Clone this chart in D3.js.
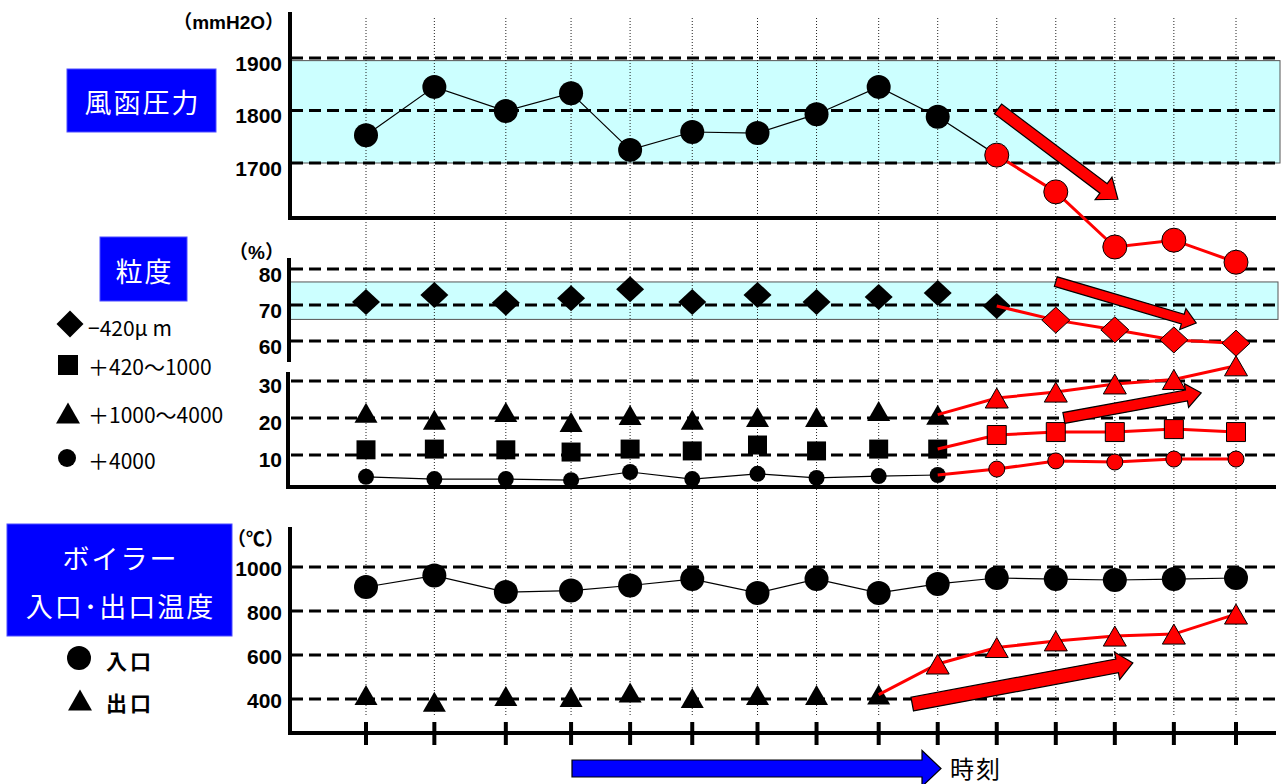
<!DOCTYPE html>
<html><head><meta charset="utf-8">
<script src="https://cdn.jsdelivr.net/npm/d3@7"></script>
<style>body{margin:0;background:#fff}svg{display:block}</style>
</head><body><svg id="c" width="1288" height="784"></svg>
<script>
// ---------- data ----------
const times = [0, 1.1, 2.25, 3.3, 4.25, 5.25, 6.3, 7.25, 8.25, 9.2, 10.15, 11.1, 12.05, 13, 14];
const windboxPressure = [1753, 1845, 1799, 1833, 1725, 1759, 1757, 1793, 1845, 1788, 1715, 1645, 1540, 1553, 1511];
const sizeUnder420   = [70.8, 72.8, 70.6, 71.9, 74.4, 70.8, 72.8, 70.8, 72.2, 73.3, 69.7, 65.8, 63.1, 60.3, 59.4];
const size420to1000  = [11.4, 11.6, 11.4, 10.8, 11.6, 11.1, 12.7, 11.1, 11.6, 11.6, 15.4, 16.2, 16.2, 17.0, 16.2];
const size1000to4000 = [21.4, 19.5, 21.6, 18.9, 20.8, 19.5, 20.3, 20.3, 21.9, 20.9, 25.4, 27.0, 29.2, 30.4, 34.1];
const sizeOver4000   = [4.1, 3.5, 3.5, 3.2, 5.4, 3.5, 4.9, 3.8, 4.3, 4.6, 6.2, 8.4, 8.1, 8.9, 8.9];
const boilerInlet    = [909, 961, 886, 893, 916, 945, 882, 945, 882, 923, 950, 945, 941, 945, 950];
const boilerOutlet   = [418, 388, 414, 409, 429, 405, 418, 418, 420, 559, 634, 664, 686, 695, 786];

const pressureTicks  = [1700, 1800, 1900];
const sizeUpperTicks = [60, 70, 80];
const sizeLowerTicks = [10, 20, 30];
const tempTicks      = [400, 600, 800, 1000];

const pressureBand = [1700, 1895];
const sizeBand     = [66, 76.4];

const unitLabels   = ['（mmH2O）', '（%）', '（℃）'];
const panelTitles  = [['風函圧力'], ['粒度'], ['ボイラー', '入口･出口温度']];
const sizeLegend   = ['−420μ m', '＋420～1000', '＋1000～4000', '＋4000'];
const tempLegend   = ['入口', '出口'];
const timeLabel    = '時刻';

// trend arrows, in data units [time, value]
const trendPressure = [[10.17, 1803], [12.1, 1631]];
const trendUpper    = [[11.1, 76.5], [13.36, 65]];
const trendLower    = [[11.23, 20], [13.44, 26.8]];
const trendTemp     = [[8.79, 377], [12.34, 564]];

// ---------- scales ----------
const svg = d3.select('#c');
svg.append('rect').attr('width', 1288).attr('height', 784).attr('fill', '#fff');

const x  = d3.scaleLinear().domain([0, 14]).range([366, 1236]);
const yP = d3.scaleLinear().domain([1700, 1900]).range([163, 58]);
const yU = d3.scaleLinear().domain([60, 80]).range([341, 269]);
const yL = d3.scaleLinear().domain([10, 30]).range([455, 381]);
const yT = d3.scaleLinear().domain([400, 1000]).range([699, 567]);

const NUM_FONT = '"Liberation Sans", Arial, "Noto Sans CJK JP", sans-serif';
const JP_FONT = '"Noto Sans CJK JP", "Noto Sans", sans-serif';
const RED = '#ff0000';
const GRID_L = 291, GRID_R = 1280, AXIS_R = 1276;

// ---------- bands ----------
function band(scale, b, x0, x1) {
  svg.append('rect')
    .attr('x', x0).attr('y', scale(b[1]))
    .attr('width', x1 - x0).attr('height', scale(b[0]) - scale(b[1]))
    .attr('fill', '#ccffff').attr('stroke', '#555').attr('stroke-width', 1);
}
band(yP, pressureBand, 291, 1280);
band(yU, sizeBand, 290, 1278);

// ---------- vertical dotted lines ----------
svg.append('g').selectAll('line').data(times).join('line')
  .attr('x1', d => x(d)).attr('x2', d => x(d))
  .attr('y1', 18).attr('y2', 717)
  .attr('stroke', '#222').attr('stroke-width', 1).attr('stroke-dasharray', '1,2');

// ---------- gridlines + tick labels ----------
function grid(scale, ticks, dy) {
  const g = svg.append('g');
  g.selectAll('line').data(ticks).join('line')
    .attr('x1', GRID_L).attr('x2', GRID_R)
    .attr('y1', d => scale(d)).attr('y2', d => scale(d))
    .attr('stroke', '#000').attr('stroke-width', 3).attr('stroke-dasharray', '12,6');
  g.selectAll('text').data(ticks).join('text')
    .attr('x', 282).attr('y', d => scale(d) + dy)
    .attr('text-anchor', 'end').attr('dominant-baseline', 'central')
    .attr('font-family', NUM_FONT).attr('font-weight', 'bold').attr('font-size', 21)
    .text(d => d);
}
grid(yP, pressureTicks, 5);
grid(yU, sizeUpperTicks, 5);
grid(yL, sizeLowerTicks, 4);
grid(yT, tempTicks, 1);

// ---------- axis lines ----------
function axisLine(x1, y1, x2, y2) {
  svg.append('line').attr('x1', x1).attr('y1', y1).attr('x2', x2).attr('y2', y2)
    .attr('stroke', '#000').attr('stroke-width', 4);
}
axisLine(290, 12, 290, 220); axisLine(288, 218, AXIS_R, 218);
axisLine(289, 258, 289, 362);
axisLine(288, 372, 288, 489); axisLine(286, 487, AXIS_R, 487);
axisLine(290, 527, 290, 735); axisLine(288, 733, AXIS_R, 733);
svg.append('g').selectAll('line').data(times).join('line')
  .attr('x1', d => x(d)).attr('x2', d => x(d)).attr('y1', 722).attr('y2', 745)
  .attr('stroke', '#000').attr('stroke-width', 4);

// unit labels
[[22, 0], [252, 1], [539, 2]].forEach(([yy, i]) => {
  svg.append('text').attr('x', 284).attr('y', yy)
    .attr('text-anchor', 'end').attr('dominant-baseline', 'central')
    .attr('font-family', NUM_FONT).attr('font-weight', 'bold').attr('font-size', 19)
    .text(unitLabels[i]);
});

// ---------- marker shapes ----------
const shapePath = {
  circle: s => d3.symbol(d3.symbolCircle, Math.PI * s.r * s.r)(),
  square: s => d3.symbol(d3.symbolSquare, s.a * s.a)(),
  triangle: s => `M0,${-s.h / 2}L${s.b / 2},${s.h / 2}L${-s.b / 2},${s.h / 2}Z`,
  diamond: s => `M0,${-s.h / 2}L${s.w / 2},0L0,${s.h / 2}L${-s.w / 2},0Z`
};

const seriesDefs = [
  { values: windboxPressure, y: yP, shape: 'circle',   size: { r: 12 },        black: [0, 10], red: 10,   redMarkers: 10 },
  { values: sizeUnder420,    y: yU, shape: 'diamond',  size: { w: 28, h: 26 }, black: null,    red: 10,   redMarkers: 11 },
  { values: size1000to4000,  y: yL, shape: 'triangle', size: { b: 23, h: 20 }, black: null,    red: 9,    redMarkers: 10 },
  { values: size420to1000,   y: yL, shape: 'square',   size: { a: 19 },        black: null,    red: 9,    redMarkers: 10 },
  { values: sizeOver4000,    y: yL, shape: 'circle',   size: { r: 8 },         black: [0, 9],  red: 9,    redMarkers: 10 },
  { values: boilerInlet,     y: yT, shape: 'circle',   size: { r: 12 },        black: [0, 14], red: null, redMarkers: 99 },
  { values: boilerOutlet,    y: yT, shape: 'triangle', size: { b: 23, h: 20 }, black: null,    red: 8,    redMarkers: 9 }
];

const pts = s => s.values.map((v, i) => ({ i, t: times[i], px: x(times[i]), py: s.y(v) }));
const lineGen = d3.line().x(d => d.px).y(d => d.py);

const gBlackLines = svg.append('g'), gBlackMarks = svg.append('g'),
      gRedLines = svg.append('g'), gRedMarks = svg.append('g');

seriesDefs.forEach(s => {
  const p = pts(s);
  if (s.black) {
    gBlackLines.append('path').attr('d', lineGen(p.slice(s.black[0], s.black[1] + 1)))
      .attr('fill', 'none').attr('stroke', '#000').attr('stroke-width', 1.2);
  }
  if (s.red !== null) {
    gRedLines.append('path').attr('d', lineGen(p.slice(s.red)))
      .attr('fill', 'none').attr('stroke', RED).attr('stroke-width', 3);
  }
  const path = shapePath[s.shape](s.size);
  gBlackMarks.selectAll(null).data(p.filter(d => d.i < s.redMarkers)).join('path')
    .attr('d', path).attr('transform', d => `translate(${d.px},${d.py})`)
    .attr('fill', '#000');
  gRedMarks.selectAll(null).data(p.filter(d => d.i >= s.redMarkers)).join('path')
    .attr('d', path).attr('transform', d => `translate(${d.px},${d.py})`)
    .attr('fill', RED).attr('stroke', '#000').attr('stroke-width', 1);
});

// ---------- block arrows ----------
function blockArrow(p0, p1, w, W, L, fill) {
  const dx = p1[0] - p0[0], dy = p1[1] - p0[1], len = Math.hypot(dx, dy);
  const ux = dx / len, uy = dy / len, nx = -uy, ny = ux;
  const bx = p1[0] - ux * L, by = p1[1] - uy * L;
  const P = [
    [p0[0] + nx * w / 2, p0[1] + ny * w / 2],
    [bx + nx * w / 2, by + ny * w / 2],
    [bx + nx * W / 2, by + ny * W / 2],
    p1,
    [bx - nx * W / 2, by - ny * W / 2],
    [bx - nx * w / 2, by - ny * w / 2],
    [p0[0] - nx * w / 2, p0[1] - ny * w / 2]
  ];
  svg.append('path').attr('d', 'M' + P.map(p => p.join(',')).join('L') + 'Z')
    .attr('fill', fill).attr('stroke', '#000').attr('stroke-width', 1.2).attr('stroke-linejoin', 'miter');
}
const toPx = (pair, ys) => [x(pair[0]), ys(pair[1])];
blockArrow(toPx(trendPressure[0], yP), toPx(trendPressure[1], yP), 12, 28, 18, RED);
blockArrow(toPx(trendUpper[0], yU), toPx(trendUpper[1], yU), 10, 22, 14, RED);
blockArrow(toPx(trendLower[0], yL), toPx(trendLower[1], yL), 11, 24, 15, RED);
blockArrow(toPx(trendTemp[0], yT), toPx(trendTemp[1], yT), 14, 28, 16, RED);

// time arrow
blockArrow([572, 768.5], [941, 768.5], 17, 36, 19, '#0000ff');
svg.append('text').attr('x', 950).attr('y', 767).attr('dominant-baseline', 'central')
  .attr('font-family', JP_FONT).attr('font-size', 24).attr('letter-spacing', 2).text(timeLabel);

// ---------- title boxes ----------
const boxes = [
  { x: 67, y: 69, w: 149, h: 63, ys: [101] },
  { x: 100, y: 237, w: 87, h: 64, ys: [270] },
  { x: 7, y: 524, w: 225, h: 112, ys: [557, 605] }
];
boxes.forEach((b, i) => {
  svg.append('rect').attr('x', b.x).attr('y', b.y).attr('width', b.w).attr('height', b.h)
    .attr('fill', '#0000ff').attr('stroke', '#4d4dff').attr('stroke-width', 1);
  panelTitles[i].forEach((t, j) => {
    svg.append('text').attr('x', b.x + b.w / 2 + 1).attr('y', b.ys[j])
      .attr('text-anchor', 'middle').attr('dominant-baseline', 'central')
      .attr('font-family', JP_FONT).attr('font-size', 27).attr('letter-spacing', 2)
      .attr('fill', '#fff').text(t);
  });
});

// ---------- legends ----------
const sizeLegendShapes = [
  { shape: 'diamond', size: { w: 27, h: 27 }, cx: 70, cy: 324, ty: 327 },
  { shape: 'square', size: { a: 20 }, cx: 68, cy: 365, ty: 366 },
  { shape: 'triangle', size: { b: 24, h: 21 }, cx: 68, cy: 413, ty: 414 },
  { shape: 'circle', size: { r: 9 }, cx: 67, cy: 458, ty: 460 }
];
sizeLegendShapes.forEach((l, i) => {
  svg.append('path').attr('d', shapePath[l.shape](l.size))
    .attr('transform', `translate(${l.cx},${l.cy})`).attr('fill', '#000');
  svg.append('text').attr('x', 88).attr('y', l.ty).attr('dominant-baseline', 'central')
    .attr('font-family', JP_FONT).attr('font-size', 21).text(sizeLegend[i]);
});
const tempLegendShapes = [
  { shape: 'circle', size: { r: 12 }, cx: 79, cy: 658, ty: 660 },
  { shape: 'triangle', size: { b: 24, h: 21 }, cx: 80, cy: 700, ty: 702 }
];
tempLegendShapes.forEach((l, i) => {
  svg.append('path').attr('d', shapePath[l.shape](l.size))
    .attr('transform', `translate(${l.cx},${l.cy})`).attr('fill', '#000');
  svg.append('text').attr('x', 106).attr('y', l.ty).attr('dominant-baseline', 'central')
    .attr('font-family', JP_FONT).attr('font-weight', 'bold').attr('font-size', 21)
    .attr('letter-spacing', 3).text(tempLegend[i]);
});
</script>
</body></html>
